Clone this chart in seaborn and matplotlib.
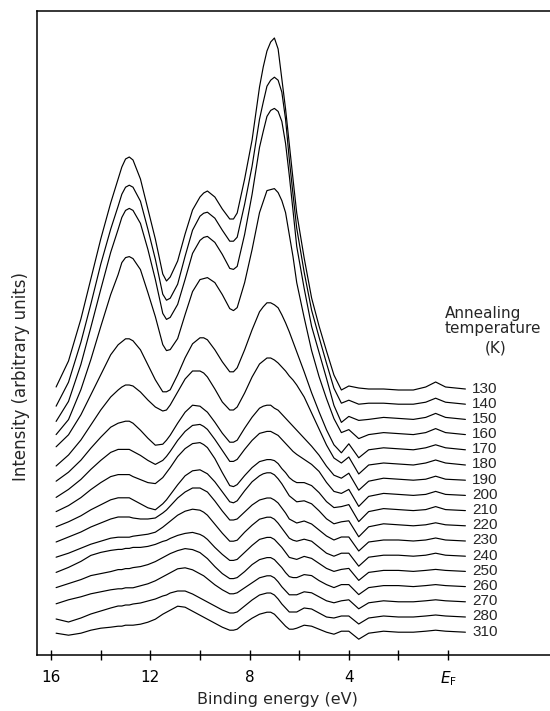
import numpy as np
import pandas as pd
import matplotlib
matplotlib.use("Agg")
import matplotlib.pyplot as plt
import seaborn as sns

# ---------------- data ----------------
energy = [15.8, 15.3, 14.8, 14.4, 14.0, 13.6, 13.3, 13.15, 13.0, 12.85,
          12.7, 12.4, 12.1, 11.8, 11.5, 11.35, 11.2, 10.9, 10.6, 10.3,
          10.0, 9.85, 9.7, 9.4, 9.1, 8.8, 8.65, 8.5, 8.2, 7.9,
          7.6, 7.45, 7.3, 7.15, 7.0, 6.85, 6.7, 6.55, 6.4, 6.25,
          6.1, 5.8, 5.5, 5.2, 4.9, 4.6, 4.3, 4.0, 3.6, 3.2,
          2.6, 2.0, 1.4, 0.9, 0.5, 0.1, -0.7]

temps = [130, 140, 150, 160, 170, 180, 190, 200, 210, 220, 230, 240,
         250, 260, 270, 280, 310]

i130 = [2, 28, 70, 110, 150, 186, 210, 222, 230, 232,
        229, 210, 180, 150, 115, 108, 112, 128, 155, 179,
        192, 196, 198, 192, 180, 170, 170, 176, 210, 249,
        302, 322, 338, 347, 351, 340, 310, 280, 245, 210,
        176, 131, 91, 63, 38, 14, -1, 3, 1, 0,
        0, -1, -1, 2, 7, 2, 0]
i140 = [-2, 22, 62, 100, 140, 175, 198, 210, 217, 219,
        217, 203, 175, 145, 110, 104, 106, 120, 148, 174,
        188, 191, 192, 186, 174, 163, 163, 167, 200, 238,
        285, 302, 318, 324, 327, 324, 312, 285, 245, 210,
        176, 132, 94, 67, 41, 16, 1, 4, 0, 1,
        1, 0, 0, 2, 6, 2, 0]
i150 = [-2, 18, 55, 92, 130, 167, 190, 202, 209, 211,
        209, 196, 170, 140, 106, 100, 102, 115, 140, 166,
        179, 182, 183, 177, 165, 151, 150, 153, 185, 225,
        272, 288, 303, 309, 311, 308, 298, 276, 244, 209,
        173, 131, 93, 67, 41, 14, -3, 3, -1, 0,
        2, 1, 0, 2, 6, 2, 0]
i160 = [0, 15, 45, 75, 108, 140, 160, 172, 177, 178,
        176, 165, 142, 118, 90, 84, 85, 96, 120, 143,
        155, 156, 157, 152, 140, 126, 124, 127, 152, 185,
        222, 233, 244, 245, 246, 242, 234, 222, 200, 178,
        152, 117, 84, 58, 36, 16, 2, 5, -4, 0,
        2, 1, 0, 2, 6, 2, 0]
i170 = [3, 15, 35, 55, 75, 95, 105, 108, 111, 111,
        109, 100, 85, 70, 58, 58, 60, 75, 92, 106,
        112, 112, 110, 100, 88, 78, 78, 82, 100, 120,
        138, 143, 147, 147, 145, 142, 135, 127, 118, 108,
        98, 78, 57, 38, 20, 5, -3, 6, -8, 0,
        2, 1, 0, 2, 5, 2, 0]
i180 = [-1, 10, 25, 40, 55, 68, 75, 78, 80, 80,
        79, 73, 65, 58, 54, 55, 60, 73, 86, 94,
        94, 92, 88, 76, 63, 55, 55, 58, 72, 88,
        101, 104, 107, 107, 105, 102, 98, 94, 89, 85,
        80, 68, 52, 36, 20, 7, 2, 8, -9, 0,
        2, 1, 0, 2, 5, 2, 0]
i190 = [-1, 8, 20, 32, 43, 53, 57, 58, 59, 59,
        57, 50, 42, 35, 36, 40, 45, 57, 68, 75,
        74, 71, 68, 58, 47, 38, 38, 40, 52, 63,
        72, 74, 75, 75, 72, 70, 66, 62, 58, 54,
        50, 42, 34, 25, 14, 5, 2, 7, -10, -1,
        2, 1, 0, 1, 4, 1, 0]
i200 = [-2, 6, 16, 26, 35, 43, 46, 46, 46, 46,
        44, 40, 35, 31, 35, 39, 44, 55, 64, 70,
        71, 69, 66, 56, 45, 34, 34, 36, 46, 55,
        62, 63, 64, 64, 62, 60, 56, 52, 48, 44,
        41, 36, 31, 24, 13, 4, 2, 6, -11, -1,
        2, 1, 0, 1, 4, 1, 0]
i210 = [-1, 5, 13, 21, 28, 34, 36, 36, 36, 36,
        34, 31, 28, 27, 33, 38, 43, 54, 62, 67,
        68, 66, 63, 52, 38, 25, 24, 26, 35, 43,
        49, 50, 51, 51, 50, 47, 42, 38, 33, 30,
        28, 28, 25, 18, 9, 3, 4, 6, -11, -1,
        2, 1, 0, 1, 4, 1, 0]
i220 = [-1, 4, 10, 16, 21, 26, 28, 28, 28, 28,
        26, 22, 18, 16, 22, 26, 31, 41, 50, 55,
        56, 54, 52, 44, 34, 24, 23, 25, 35, 44,
        50, 52, 53, 53, 51, 47, 42, 36, 30, 27,
        24, 25, 22, 15, 7, 2, 4, 5, -11, -1,
        2, 1, 0, 1, 3, 1, 0]
i230 = [-1, 4, 9, 14, 18, 22, 24, 24, 24, 24,
        23, 22, 22, 23, 28, 31, 35, 43, 49, 53,
        53, 51, 49, 40, 30, 21, 21, 22, 29, 36,
        41, 42, 43, 43, 41, 38, 33, 28, 22, 20,
        18, 20, 17, 11, 5, 1, 4, 4, -10, -1,
        1, 1, 0, 1, 3, 1, 0]
i240 = [-1, 3, 8, 12, 15, 18, 19, 19, 19, 19,
        20, 21, 22, 24, 29, 32, 35, 41, 45, 47,
        46, 44, 41, 32, 23, 15, 15, 16, 24, 31,
        37, 38, 39, 39, 37, 33, 28, 23, 18, 16,
        15, 17, 15, 9, 3, 0, 3, 3, -10, -1,
        1, 1, 0, 1, 3, 1, 0]
i250 = [-1, 4, 10, 16, 19, 21, 22, 22, 23, 23,
        24, 24, 25, 27, 30, 31, 33, 36, 38, 39,
        37, 35, 32, 24, 17, 11, 11, 12, 19, 26,
        32, 33, 34, 34, 32, 28, 24, 19, 14, 13,
        12, 15, 13, 8, 3, 0, 2, 3, -9, -1,
        1, 1, 0, 1, 2, 1, 0]
i260 = [-1, 3, 7, 11, 13, 15, 17, 17, 18, 18,
        19, 20, 22, 25, 29, 31, 33, 36, 38, 37,
        34, 31, 28, 20, 13, 8, 8, 9, 15, 22,
        27, 28, 29, 29, 27, 23, 19, 14, 10, 9,
        9, 12, 11, 6, 2, -1, 2, 2, -8, -1,
        1, 1, 0, 1, 2, 1, 0]
i270 = [-2, 2, 5, 8, 10, 12, 13, 13, 14, 14,
        14, 16, 18, 21, 25, 27, 29, 33, 34, 32,
        28, 26, 23, 17, 12, 8, 8, 9, 14, 19,
        24, 25, 26, 26, 24, 20, 15, 11, 7, 7,
        7, 10, 9, 5, 1, -1, 1, 2, -7, -1,
        1, 0, 0, 1, 2, 1, 0]
i280 = [-2, -5, -1, 3, 6, 9, 11, 11, 12, 12,
        13, 14, 16, 18, 21, 22, 24, 26, 26, 23,
        19, 17, 15, 11, 7, 4, 4, 5, 11, 17,
        22, 23, 24, 24, 22, 18, 13, 9, 5, 5,
        5, 9, 8, 4, 0, -1, 1, 1, -7, -1,
        1, 0, 0, 1, 2, 1, 0]
i310 = [-1, -3, -1, 2, 4, 5, 6, 6, 7, 7,
        7, 8, 10, 13, 18, 20, 22, 26, 25, 21,
        17, 15, 13, 9, 5, 2, 2, 3, 9, 14,
        18, 19, 20, 20, 18, 14, 10, 6, 3, 3,
        4, 7, 6, 3, 0, -2, 1, 1, -7, -1,
        1, 0, 0, 1, 2, 1, 0]

x_ticks = [16, 14, 12, 10, 8, 6, 4, 2, 0]
x_ticklabels = ["16", "", "12", "", "8", "", "4", "", r"$E_{\mathrm{F}}$"]

spectra = [i130, i140, i150, i160, i170, i180, i190, i200, i210, i220,
           i230, i240, i250, i260, i270, i280, i310]

# ---------------- waterfall table ----------------
top_offset = 266.0
step = 15.2
rows = []
for k, (t, vals) in enumerate(zip(temps, spectra)):
    off = top_offset - step * k
    for e, v in zip(energy, vals):
        rows.append({"energy": e, "intensity": v, "temp": t, "y": v + off})
df = pd.DataFrame(rows)

# ---------------- style ----------------
sns.set_style("ticks")
plt.rcParams["font.family"] = ["DejaVu Sans"]
plt.rcParams["mathtext.fontset"] = "dejavusans"

fig = plt.figure(figsize=(5.5, 7.11), dpi=100)
W, H = 550.0, 711.0
ax = fig.add_axes([37 / W, 56 / H, 513 / W, 644 / H])

sns.lineplot(data=df, x="energy", y="y", units="temp", estimator=None,
             sort=False, color="black", linewidth=0.85, legend=False, ax=ax)
for ln in ax.get_lines():
    ln.set_solid_joinstyle("round")

ax.set_xlim(16.57, -4.11)
ax.set_ylim(0, 644)
ax.set_xticks(x_ticks)
ax.set_xticklabels(x_ticklabels)
ax.set_yticks([])
ax.tick_params(axis="x", direction="inout", length=7, width=1.0,
               labelsize=11, pad=7, colors="black")

for side in ["left", "bottom", "top"]:
    ax.spines[side].set_linewidth(1.1)
    ax.spines[side].set_color("black")
ax.spines["right"].set_visible(False)

ax.set_xlabel("Binding energy (eV)", fontsize=11.5)
ax.xaxis.set_label_coords(0.468, -0.058)
ax.xaxis.label.set_verticalalignment("top")
ax.set_ylabel("Intensity (arbitrary units)", fontsize=12)
ax.yaxis.set_label_coords(-0.0315, 0.433)
ax.yaxis.label.set_verticalalignment("center")

# right-hand temperature labels
label_x = energy[-1] - 0.28
for k, t in enumerate(temps):
    off = top_offset - step * k
    ax.text(label_x, off + 0.5, str(t), ha="left", va="center",
            fontsize=11, family=["Liberation Sans", "DejaVu Sans"])

ax.text(0.12, 342, "Annealing", ha="left", va="center", fontsize=11)
ax.text(0.12, 327, "temperature", ha="left", va="center", fontsize=11)
ax.text(-1.9, 307, "(K)", ha="center", va="center", fontsize=11)

ax.set_facecolor("white")
fig.patch.set_facecolor("white")
fig.savefig("out.png", dpi=100)
